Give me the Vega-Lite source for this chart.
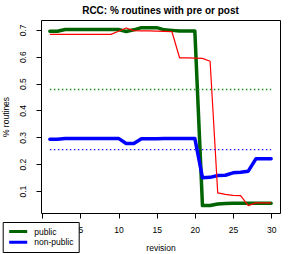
{
  "$schema": "https://vega.github.io/schema/vega-lite/v6.json",
  "autosize": "none",
  "width": 239,
  "height": 193,
  "padding": {"left": 41, "top": 20, "right": 14, "bottom": 41},
  "title": {"text": "RCC: % routines with pre or post", "font": "Liberation Sans", "fontSize": 10, "fontWeight": "bold", "color": "black", "anchor": "middle", "baseline": "alphabetic", "offset": -4},
  "config": {
    "view": {"stroke": "black", "strokeWidth": 1},
    "axis": {"domain": false, "grid": false, "tickColor": "black", "tickSize": 5, "labelFont": "Liberation Sans", "labelFontSize": 8.5, "labelColor": "black", "titleFont": "Liberation Sans", "titleFontSize": 8.5, "titleFontWeight": "normal", "titleColor": "black"},
    "legend": {"orient": "none", "legendX": -38.3, "legendY": 202, "direction": "vertical", "symbolType": "stroke", "symbolSize": 324, "symbolStrokeWidth": 3, "labelFont": "Liberation Sans", "labelFontSize": 8.5, "labelColor": "black", "labelOffset": 5.5, "padding": 5, "strokeColor": "black", "fillColor": "white", "clipHeight": 9, "rowPadding": 1.7}
  },
  "datasets": {
    "main": [
      {"revision": 1, "pct": 0.695, "series": "public"},
      {"revision": 2, "pct": 0.695, "series": "public"},
      {"revision": 3, "pct": 0.701, "series": "public"},
      {"revision": 4, "pct": 0.701, "series": "public"},
      {"revision": 5, "pct": 0.701, "series": "public"},
      {"revision": 6, "pct": 0.701, "series": "public"},
      {"revision": 7, "pct": 0.701, "series": "public"},
      {"revision": 8, "pct": 0.701, "series": "public"},
      {"revision": 9, "pct": 0.701, "series": "public"},
      {"revision": 10, "pct": 0.701, "series": "public"},
      {"revision": 11, "pct": 0.694, "series": "public"},
      {"revision": 12, "pct": 0.700, "series": "public"},
      {"revision": 13, "pct": 0.708, "series": "public"},
      {"revision": 14, "pct": 0.708, "series": "public"},
      {"revision": 15, "pct": 0.708, "series": "public"},
      {"revision": 16, "pct": 0.700, "series": "public"},
      {"revision": 17, "pct": 0.698, "series": "public"},
      {"revision": 18, "pct": 0.696, "series": "public"},
      {"revision": 19, "pct": 0.696, "series": "public"},
      {"revision": 20, "pct": 0.696, "series": "public"},
      {"revision": 21, "pct": 0.046, "series": "public"},
      {"revision": 22, "pct": 0.046, "series": "public"},
      {"revision": 23, "pct": 0.052, "series": "public"},
      {"revision": 24, "pct": 0.054, "series": "public"},
      {"revision": 25, "pct": 0.055, "series": "public"},
      {"revision": 26, "pct": 0.055, "series": "public"},
      {"revision": 27, "pct": 0.055, "series": "public"},
      {"revision": 28, "pct": 0.055, "series": "public"},
      {"revision": 29, "pct": 0.055, "series": "public"},
      {"revision": 30, "pct": 0.055, "series": "public"},
      {"revision": 1, "pct": 0.293, "series": "non-public"},
      {"revision": 2, "pct": 0.293, "series": "non-public"},
      {"revision": 3, "pct": 0.296, "series": "non-public"},
      {"revision": 4, "pct": 0.296, "series": "non-public"},
      {"revision": 5, "pct": 0.296, "series": "non-public"},
      {"revision": 6, "pct": 0.296, "series": "non-public"},
      {"revision": 7, "pct": 0.296, "series": "non-public"},
      {"revision": 8, "pct": 0.296, "series": "non-public"},
      {"revision": 9, "pct": 0.296, "series": "non-public"},
      {"revision": 10, "pct": 0.296, "series": "non-public"},
      {"revision": 11, "pct": 0.277, "series": "non-public"},
      {"revision": 12, "pct": 0.277, "series": "non-public"},
      {"revision": 13, "pct": 0.295, "series": "non-public"},
      {"revision": 14, "pct": 0.295, "series": "non-public"},
      {"revision": 15, "pct": 0.295, "series": "non-public"},
      {"revision": 16, "pct": 0.296, "series": "non-public"},
      {"revision": 17, "pct": 0.296, "series": "non-public"},
      {"revision": 18, "pct": 0.296, "series": "non-public"},
      {"revision": 19, "pct": 0.296, "series": "non-public"},
      {"revision": 20, "pct": 0.296, "series": "non-public"},
      {"revision": 21, "pct": 0.150, "series": "non-public"},
      {"revision": 22, "pct": 0.151, "series": "non-public"},
      {"revision": 23, "pct": 0.158, "series": "non-public"},
      {"revision": 24, "pct": 0.159, "series": "non-public"},
      {"revision": 25, "pct": 0.168, "series": "non-public"},
      {"revision": 26, "pct": 0.170, "series": "non-public"},
      {"revision": 27, "pct": 0.174, "series": "non-public"},
      {"revision": 28, "pct": 0.220, "series": "non-public"},
      {"revision": 29, "pct": 0.220, "series": "non-public"},
      {"revision": 30, "pct": 0.220, "series": "non-public"}
    ],
    "red": [
      {"revision": 1, "pct": 0.683},
      {"revision": 2, "pct": 0.683},
      {"revision": 3, "pct": 0.683},
      {"revision": 4, "pct": 0.683},
      {"revision": 5, "pct": 0.683},
      {"revision": 6, "pct": 0.683},
      {"revision": 7, "pct": 0.683},
      {"revision": 8, "pct": 0.683},
      {"revision": 9, "pct": 0.683},
      {"revision": 10, "pct": 0.695},
      {"revision": 11, "pct": 0.707},
      {"revision": 12, "pct": 0.697},
      {"revision": 13, "pct": 0.696},
      {"revision": 14, "pct": 0.696},
      {"revision": 15, "pct": 0.695},
      {"revision": 16, "pct": 0.694},
      {"revision": 17, "pct": 0.693},
      {"revision": 18, "pct": 0.596},
      {"revision": 19, "pct": 0.596},
      {"revision": 20, "pct": 0.595},
      {"revision": 21, "pct": 0.594},
      {"revision": 22, "pct": 0.583},
      {"revision": 23, "pct": 0.093},
      {"revision": 24, "pct": 0.088},
      {"revision": 25, "pct": 0.084},
      {"revision": 26, "pct": 0.083},
      {"revision": 27, "pct": 0.046},
      {"revision": 28, "pct": 0.056},
      {"revision": 29, "pct": 0.056},
      {"revision": 30, "pct": 0.056}
    ],
    "means": [
      {"revision": 1, "pct": 0.478, "group": "public mean"},
      {"revision": 30, "pct": 0.478, "group": "public mean"},
      {"revision": 1, "pct": 0.254, "group": "non-public mean"},
      {"revision": 30, "pct": 0.254, "group": "non-public mean"}
    ]
  },
  "encoding": {
    "x": {"field": "revision", "type": "quantitative", "scale": {"domain": [-0.16, 31.16], "nice": false, "zero": false},
      "axis": {"values": [0, 5, 10, 15, 20, 25, 30], "title": "revision", "labelPadding": 7, "titlePadding": 10}},
    "y": {"field": "pct", "type": "quantitative", "scale": {"domain": [0.0184, 0.7366], "nice": false, "zero": false},
      "axis": {"values": [0.1, 0.2, 0.3, 0.4, 0.5, 0.6, 0.7], "title": "% routines", "labelAngle": -90, "labelAlign": "center", "labelBaseline": "bottom", "labelPadding": 9, "titlePadding": 8}}
  },
  "layer": [
    {
      "data": {"name": "main"},
      "mark": {"type": "line", "strokeWidth": 3.5, "strokeCap": "round", "strokeJoin": "round"},
      "encoding": {
        "color": {"field": "series", "type": "nominal", "scale": {"domain": ["public", "non-public"], "range": ["#006400", "#0000ff"]}, "legend": {"title": null}}
      }
    },
    {
      "data": {"name": "red"},
      "mark": {"type": "line", "strokeWidth": 1.2, "stroke": "#ff0000", "strokeJoin": "round"},
      "encoding": {}
    },
    {
      "data": {"name": "means"},
      "mark": {"type": "line", "strokeWidth": 1.3, "strokeDash": [1.5, 2.5]},
      "encoding": {
        "stroke": {"field": "group", "type": "nominal", "scale": {"domain": ["public mean", "non-public mean"], "range": ["#1e901e", "#1f1fff"]}, "legend": null}
      }
    }
  ]
}
